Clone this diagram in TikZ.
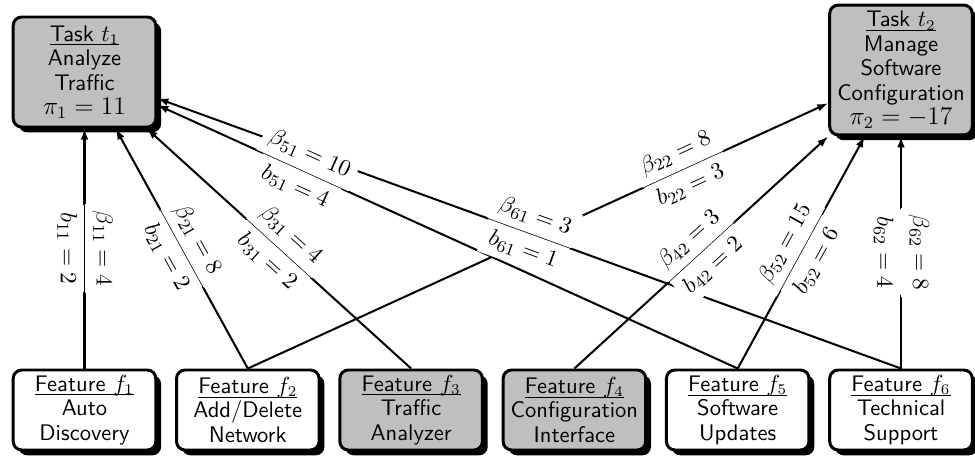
\documentclass[tikz,border=0pt]{standalone}
\usetikzlibrary{arrows.meta,shadows}
\newcommand{\payoff}[1]{{\fontsize{11.5}{12}\selectfont$#1$}}
% first line of a box: a thin rule just under the baseline, as wide as the line
\newsavebox\headbox
\newcommand{\headline}[1]{\sbox\headbox{#1}%
  \rlap{\rule[-1.9pt]{\wd\headbox}{0.45pt}}\usebox\headbox}
\tikzset{
  box/.style={draw, line width=1.4pt, rounded corners=4pt, align=center,
    font=\sffamily\fontsize{10.6}{11.5}\selectfont, minimum width=67pt, inner sep=2pt,
    drop shadow={shadow xshift=2.5pt, shadow yshift=-2.5pt, fill=black, opacity=1}},
  plainbox/.style={box, fill=white},
  greybox/.style={box, fill=gray!50},
  taskbox/.style={greybox},
  featbox/.style={minimum height=37.6pt},
  link/.style={line width=0.95pt, {Latex[length=5.2pt,width=3.6pt]}-},
  wlabel/.style={sloped, fill=white, font=\fontsize{11}{13}\selectfont},
  benefit/.style={wlabel, above},
  cost/.style={wlabel, below},
}
\begin{document}
\begin{tikzpicture}[x=0.47pt,y=-0.47pt]
\useasboundingbox (0,0) rectangle (975,460);

% tasks
\node[taskbox, minimum height=51.7pt] (t1) at (84.5,72)
  {\headline{Task $t_1$}\\Analyze\\Traffic\\\payoff{\pi_1 = 11}};
\node[taskbox, minimum height=61pt] (t2) at (901,70)
  {\headline{Task $t_2$}\\Manage\\Software\\Configuration\\\payoff{\pi_2 = -17}};

% features
\node[plainbox, featbox] (f1) at (84.5,410) {\headline{Feature $f_1$}\\Auto\\Discovery};
\node[plainbox, featbox] (f2) at (247.8,410) {\headline{Feature $f_2$}\\Add/Delete\\Network};
\node[greybox,  featbox] (f3) at (411.1,410) {\headline{Feature $f_3$}\\Traffic\\Analyzer};
\node[greybox,  featbox] (f4) at (574.4,410) {\headline{Feature $f_4$}\\Configuration\\Interface};
\node[plainbox, featbox] (f5) at (737.7,410) {\headline{Feature $f_5$}\\Software\\Updates};
\node[plainbox, featbox] (f6) at (901,410) {\headline{Feature $f_6$}\\Technical\\Support};

% connectors
\draw[link] (t1) -- (f1.north);
\draw[link] (t1) -- (f2.north);
\draw[link] (t1) -- (f3.north);
\draw[link] (t1) -- (f5.north);
\draw[link] (t1) -- (f6.north);
\draw[link] (t2) -- (f2.north);
\draw[link] (t2) -- (f4.north);
\draw[link] (t2) -- (f5.north);
\draw[link] (t2) -- (f6.north);

% weights on the connectors
\path (t1) -- node[benefit, allow upside down]{$\beta_{11} = 4$}
               node[cost, allow upside down]{$b_{11} = 2$} (f1.north);
\path (t1) -- node[benefit]{$\beta_{21} = 8$} node[cost]{$b_{21} = 2$} (f2.north);
\path (t1) -- node[benefit]{$\beta_{31} = 4$} node[cost]{$b_{31} = 2$} (f3.north);
\path (t1) -- node[benefit, pos=.25]{$\beta_{51} = 10$} node[cost, pos=.25]{$b_{51} = 4$} (f5.north);
\path (t1) -- node[benefit]{$\beta_{61} = 3$} node[cost]{$b_{61} = 1$} (f6.north);
\path (t2) -- node[benefit, pos=.25]{$\beta_{22} = 8$} node[cost, pos=.25]{$b_{22} = 3$} (f2.north);
\path (t2) -- node[benefit]{$\beta_{42} = 3$} node[cost]{$b_{42} = 2$} (f4.north);
\path (t2) -- node[benefit]{$\beta_{52} = 15$} node[cost]{$b_{52} = 6$} (f5.north);
\path (t2) -- node[benefit, allow upside down]{$\beta_{62} = 8$}
               node[cost, allow upside down]{$b_{62} = 4$} (f6.north);
\end{tikzpicture}
\end{document}
